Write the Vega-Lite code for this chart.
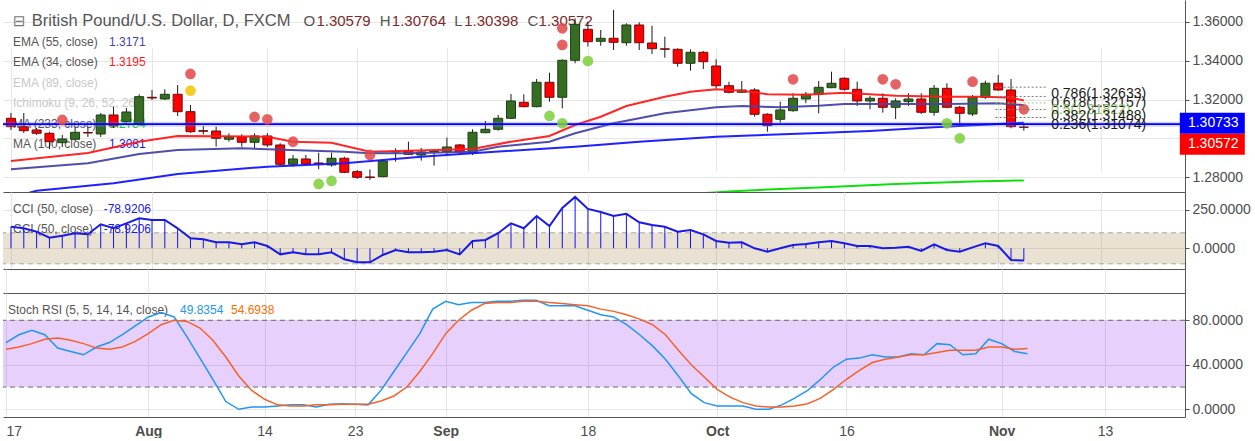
{
"$schema": "https://vega.github.io/schema/vega-lite/v6.json",
"padding": 0,
"background": "white",
"bounds": "flush",
"spacing": 0,
"config": {"view": {"stroke": null}, "font": "Liberation Sans",
 "axis": {"domainColor": "#555555", "gridColor": "#e6e6e6", "tickColor": "#555555", "labelFontSize": 14, "labelColor": "#4d4d4d", "tickSize": 4, "labelPadding": 3}},
"datasets": {
"candles": [
{"d":"2017-07-17","i":0,"o":1.31034,"h":1.31306,"l":1.30432,"c":1.30602},
{"d":"2017-07-18","i":1,"o":1.30602,"h":1.31306,"l":1.30278,"c":1.30396},
{"d":"2017-07-19","i":2,"o":1.30432,"h":1.30535,"l":1.30175,"c":1.30263},
{"d":"2017-07-20","i":3,"o":1.30263,"h":1.30345,"l":1.29455,"c":1.29831},
{"d":"2017-07-21","i":4,"o":1.2978,"h":1.30175,"l":1.29559,"c":1.2997},
{"d":"2017-07-24","i":5,"o":1.29955,"h":1.30602,"l":1.29867,"c":1.30314},
{"d":"2017-07-25","i":6,"o":1.30304,"h":1.30602,"l":1.30073,"c":1.30278},
{"d":"2017-07-26","i":7,"o":1.30227,"h":1.31306,"l":1.30073,"c":1.31204},
{"d":"2017-07-27","i":8,"o":1.31204,"h":1.31631,"l":1.30535,"c":1.30638},
{"d":"2017-07-28","i":9,"o":1.30859,"h":1.31564,"l":1.30741,"c":1.31358},
{"d":"2017-07-31","i":10,"o":1.30777,"h":1.32268,"l":1.3069,"c":1.32145},
{"d":"2017-08-01","i":11,"o":1.32114,"h":1.32489,"l":1.31975,"c":1.32078},
{"d":"2017-08-02","i":12,"o":1.32026,"h":1.32525,"l":1.31975,"c":1.32268},
{"d":"2017-08-03","i":13,"o":1.32268,"h":1.32746,"l":1.31152,"c":1.31374},
{"d":"2017-08-04","i":14,"o":1.31374,"h":1.31718,"l":1.30278,"c":1.30345},
{"d":"2017-08-07","i":15,"o":1.30396,"h":1.30638,"l":1.30201,"c":1.30366},
{"d":"2017-08-08","i":16,"o":1.30381,"h":1.30602,"l":1.29574,"c":1.30006},
{"d":"2017-08-09","i":17,"o":1.29955,"h":1.30263,"l":1.29831,"c":1.30088},
{"d":"2017-08-10","i":18,"o":1.30088,"h":1.30212,"l":1.29574,"c":1.298},
{"d":"2017-08-11","i":19,"o":1.298,"h":1.30263,"l":1.29492,"c":1.30124},
{"d":"2017-08-14","i":20,"o":1.30124,"h":1.30263,"l":1.29559,"c":1.29662},
{"d":"2017-08-15","i":21,"o":1.29662,"h":1.29749,"l":1.28582,"c":1.28669},
{"d":"2017-08-16","i":22,"o":1.28669,"h":1.29147,"l":1.28546,"c":1.28942},
{"d":"2017-08-17","i":23,"o":1.28942,"h":1.29147,"l":1.28597,"c":1.28685},
{"d":"2017-08-18","i":24,"o":1.28736,"h":1.29266,"l":1.28412,"c":1.28705},
{"d":"2017-08-21","i":25,"o":1.28633,"h":1.29266,"l":1.28546,"c":1.28978},
{"d":"2017-08-22","i":26,"o":1.28978,"h":1.2906,"l":1.28207,"c":1.28258},
{"d":"2017-08-23","i":27,"o":1.28289,"h":1.28376,"l":1.27914,"c":1.28001},
{"d":"2017-08-24","i":28,"o":1.28017,"h":1.28412,"l":1.27862,"c":1.27992},
{"d":"2017-08-25","i":29,"o":1.28032,"h":1.2889,"l":1.28001,"c":1.28839},
{"d":"2017-08-28","i":30,"o":1.29302,"h":1.29492,"l":1.28803,"c":1.29333},
{"d":"2017-08-29","i":31,"o":1.29369,"h":1.29831,"l":1.29147,"c":1.29183},
{"d":"2017-08-30","i":32,"o":1.29147,"h":1.29507,"l":1.28854,"c":1.29302},
{"d":"2017-08-31","i":33,"o":1.29302,"h":1.29405,"l":1.28597,"c":1.29327},
{"d":"2017-09-01","i":34,"o":1.29317,"h":1.30037,"l":1.29147,"c":1.29559},
{"d":"2017-09-04","i":35,"o":1.29662,"h":1.29713,"l":1.29147,"c":1.29317},
{"d":"2017-09-05","i":36,"o":1.29235,"h":1.30469,"l":1.29147,"c":1.30314},
{"d":"2017-09-06","i":37,"o":1.30293,"h":1.30895,"l":1.30263,"c":1.30469},
{"d":"2017-09-07","i":38,"o":1.30469,"h":1.31204,"l":1.30396,"c":1.31034},
{"d":"2017-09-08","i":39,"o":1.31034,"h":1.32283,"l":1.30998,"c":1.31924},
{"d":"2017-09-11","i":40,"o":1.31857,"h":1.32268,"l":1.316,"c":1.31631},
{"d":"2017-09-12","i":41,"o":1.31631,"h":1.33055,"l":1.316,"c":1.32885},
{"d":"2017-09-13","i":42,"o":1.32885,"h":1.33378,"l":1.31888,"c":1.32114},
{"d":"2017-09-14","i":43,"o":1.32114,"h":1.34067,"l":1.31548,"c":1.34016},
{"d":"2017-09-15","i":44,"o":1.34016,"h":1.36175,"l":1.33862,"c":1.35867},
{"d":"2017-09-18","i":45,"o":1.3561,"h":1.36,"l":1.34715,"c":1.34972},
{"d":"2017-09-19","i":46,"o":1.34993,"h":1.35574,"l":1.34766,"c":1.35147},
{"d":"2017-09-20","i":47,"o":1.35147,"h":1.36602,"l":1.34545,"c":1.34941},
{"d":"2017-09-21","i":48,"o":1.3492,"h":1.35918,"l":1.34766,"c":1.35831},
{"d":"2017-09-22","i":49,"o":1.35831,"h":1.35969,"l":1.34545,"c":1.3492},
{"d":"2017-09-25","i":50,"o":1.34905,"h":1.35795,"l":1.3434,"c":1.34612},
{"d":"2017-09-26","i":51,"o":1.34607,"h":1.35229,"l":1.34149,"c":1.34581},
{"d":"2017-09-27","i":52,"o":1.34581,"h":1.34633,"l":1.33687,"c":1.33862},
{"d":"2017-09-28","i":53,"o":1.33862,"h":1.34581,"l":1.33481,"c":1.34427},
{"d":"2017-09-29","i":54,"o":1.34427,"h":1.34494,"l":1.33569,"c":1.33944},
{"d":"2017-10-02","i":55,"o":1.33723,"h":1.34067,"l":1.32576,"c":1.3271},
{"d":"2017-10-03","i":56,"o":1.3271,"h":1.32916,"l":1.3232,"c":1.32371},
{"d":"2017-10-04","i":57,"o":1.32371,"h":1.32952,"l":1.32335,"c":1.32489},
{"d":"2017-10-05","i":58,"o":1.32489,"h":1.3258,"l":1.31116,"c":1.3124},
{"d":"2017-10-06","i":59,"o":1.3124,"h":1.31291,"l":1.30345,"c":1.30654},
{"d":"2017-10-09","i":60,"o":1.30983,"h":1.31888,"l":1.30808,"c":1.31461},
{"d":"2017-10-10","i":61,"o":1.31425,"h":1.32319,"l":1.31374,"c":1.32062},
{"d":"2017-10-11","i":62,"o":1.32026,"h":1.32386,"l":1.3181,"c":1.32268},
{"d":"2017-10-12","i":63,"o":1.32268,"h":1.32952,"l":1.31291,"c":1.32628},
{"d":"2017-10-13","i":64,"o":1.32607,"h":1.3343,"l":1.3258,"c":1.32834},
{"d":"2017-10-16","i":65,"o":1.33091,"h":1.33142,"l":1.32453,"c":1.32525},
{"d":"2017-10-17","i":66,"o":1.32525,"h":1.32916,"l":1.31666,"c":1.31924},
{"d":"2017-10-18","i":67,"o":1.31924,"h":1.32181,"l":1.31497,"c":1.32062},
{"d":"2017-10-19","i":68,"o":1.32062,"h":1.32319,"l":1.31322,"c":1.316},
{"d":"2017-10-20","i":69,"o":1.316,"h":1.32062,"l":1.30998,"c":1.31924},
{"d":"2017-10-23","i":70,"o":1.31888,"h":1.32319,"l":1.31666,"c":1.32026},
{"d":"2017-10-24","i":71,"o":1.32026,"h":1.32319,"l":1.31255,"c":1.31343},
{"d":"2017-10-25","i":72,"o":1.31343,"h":1.32746,"l":1.31168,"c":1.32576},
{"d":"2017-10-26","i":73,"o":1.32576,"h":1.32834,"l":1.31548,"c":1.316},
{"d":"2017-10-27","i":74,"o":1.316,"h":1.31666,"l":1.30777,"c":1.31291},
{"d":"2017-10-30","i":75,"o":1.31255,"h":1.32232,"l":1.31152,"c":1.32114},
{"d":"2017-10-31","i":76,"o":1.32114,"h":1.32967,"l":1.32026,"c":1.32834},
{"d":"2017-11-01","i":77,"o":1.32834,"h":1.3326,"l":1.32453,"c":1.32489},
{"d":"2017-11-02","i":78,"o":1.32489,"h":1.33055,"l":1.30521,"c":1.30602},
{"d":"2017-11-03","i":79,"o":1.30579,"h":1.30764,"l":1.30398,"c":1.30572}
],
"ma": [
{"i":0,"s":"e34","v":1.28839},{"i":6,"s":"e34","v":1.2925},{"i":10,"s":"e34","v":1.29831},{"i":13,"s":"e34","v":1.30124},{"i":20,"s":"e34","v":1.30088},{"i":22,"s":"e34","v":1.29831},{"i":25,"s":"e34","v":1.2978},{"i":28,"s":"e34","v":1.29317},{"i":31,"s":"e34","v":1.29369},{"i":36,"s":"e34","v":1.29456},{"i":39,"s":"e34","v":1.29831},{"i":42,"s":"e34","v":1.30124},{"i":44,"s":"e34","v":1.3069},{"i":46,"s":"e34","v":1.31116},{"i":48,"s":"e34","v":1.31666},{"i":51,"s":"e34","v":1.32145},{"i":53,"s":"e34","v":1.32402},{"i":55,"s":"e34","v":1.32525},{"i":57,"s":"e34","v":1.32453},{"i":59,"s":"e34","v":1.32268},{"i":62,"s":"e34","v":1.32248},{"i":65,"s":"e34","v":1.32351},{"i":67,"s":"e34","v":1.32268},{"i":69,"s":"e34","v":1.32196},{"i":73,"s":"e34","v":1.32145},{"i":76,"s":"e34","v":1.32145},{"i":78,"s":"e34","v":1.32093},{"i":79,"s":"e34","v":1.3195},
{"i":0,"s":"e55","v":1.28412},{"i":6,"s":"e55","v":1.28721},{"i":10,"s":"e55","v":1.29199},{"i":13,"s":"e55","v":1.29405},{"i":18,"s":"e55","v":1.29492},{"i":20,"s":"e55","v":1.29441},{"i":26,"s":"e55","v":1.29317},{"i":28,"s":"e55","v":1.29235},{"i":31,"s":"e55","v":1.29235},{"i":36,"s":"e55","v":1.29317},{"i":38,"s":"e55","v":1.29574},{"i":42,"s":"e55","v":1.29831},{"i":44,"s":"e55","v":1.30263},{"i":47,"s":"e55","v":1.30777},{"i":51,"s":"e55","v":1.31291},{"i":55,"s":"e55","v":1.316},{"i":57,"s":"e55","v":1.31666},{"i":60,"s":"e55","v":1.316},{"i":63,"s":"e55","v":1.31682},{"i":65,"s":"e55","v":1.31769},{"i":69,"s":"e55","v":1.31769},{"i":73,"s":"e55","v":1.31769},{"i":77,"s":"e55","v":1.31805},{"i":79,"s":"e55","v":1.3171},
{"i":0,"s":"m100","v":1.2694},{"i":2,"s":"m100","v":1.27312},{"i":8,"s":"m100","v":1.27693},{"i":13,"s":"m100","v":1.28171},{"i":20,"s":"m100","v":1.28546},{"i":26,"s":"m100","v":1.28721},{"i":32,"s":"m100","v":1.2906},{"i":36,"s":"m100","v":1.29235},{"i":44,"s":"m100","v":1.29574},{"i":49,"s":"m100","v":1.29831},{"i":55,"s":"m100","v":1.30088},{"i":63,"s":"m100","v":1.30279},{"i":67,"s":"m100","v":1.30381},{"i":72,"s":"m100","v":1.30572},{"i":77,"s":"m100","v":1.30741},{"i":79,"s":"m100","v":1.3081},
{"i":53,"s":"m233","v":1.2714},{"i":56,"s":"m233","v":1.2727},{"i":60,"s":"m233","v":1.274},{"i":63,"s":"m233","v":1.2747},{"i":69,"s":"m233","v":1.2766},{"i":75,"s":"m233","v":1.2778},{"i":79,"s":"m233","v":1.2784}
],
"dots": [
{"i":4,"p":1.30947,"t":"r"},{"i":14,"p":1.33312,"t":"r"},{"i":14,"p":1.32453,"t":"y"},{"i":19,"p":1.31101,"t":"r"},{"i":20,"p":1.30983,"t":"r"},{"i":22,"p":1.29831,"t":"r"},{"i":28,"p":1.29147,"t":"r"},{"i":24,"p":1.27657,"t":"g"},{"i":25,"p":1.27811,"t":"g"},{"i":43,"p":1.35661,"t":"r"},{"i":43,"p":1.34803,"t":"r"},{"i":45,"p":1.3398,"t":"g"},{"i":42,"p":1.31153,"t":"g"},{"i":43,"p":1.30777,"t":"g"},{"i":61,"p":1.33039,"t":"r"},{"i":68,"p":1.33039,"t":"r"},{"i":69,"p":1.32782,"t":"r"},{"i":75,"p":1.32916,"t":"r"},{"i":79,"p":1.31497,"t":"r"},{"i":73,"p":1.30777,"t":"g"},{"i":74,"p":1.30006,"t":"g"}
],
"tags": [
{"kind":"line","v":1.30733,"label":"1.30733"},
{"kind":"close","v":1.30572,"label":"1.30572"}
],
"fib": [
{"r":"0.786","p":1.32633,"label":"0.786(1.32633)","i0":76.8,"i1":80.74},
{"r":"0.618","p":1.32157,"label":"0.618(1.32157)","i0":76.8,"i1":80.74},
{"r":"0.5","p":1.31822,"label":"0.5(1.31822)","i0":76.8,"i1":80.74},
{"r":"0.382","p":1.31488,"label":"0.382(1.31488)","i0":76.8,"i1":80.74},
{"r":"0.236","p":1.31074,"label":"0.236(1.31074)","i0":76.8,"i1":80.74}
],
"legend": [
{"row":0,"part":"icon","name":"⊟"},
{"row":0,"part":"title","name":"British Pound/U.S. Dollar, D, FXCM"},
{"row":0,"part":"O","k":"O","val":"1.30579"},
{"row":0,"part":"H","k":"H","val":"1.30764"},
{"row":0,"part":"L","k":"L","val":"1.30398"},
{"row":0,"part":"C","k":"C","val":"1.30572"},
{"row":1,"part":"ind","name":"EMA (55, close)","val":"1.3171","s":"e55"},
{"row":2,"part":"ind","name":"EMA (34, close)","val":"1.3195","s":"e34"},
{"row":3,"part":"ind","name":"EMA (89, close)","val":"","s":"off"},
{"row":4,"part":"ind","name":"Ichimoku (9, 26, 52, 26)","val":"","s":"off"},
{"row":5,"part":"ind","name":"MA (233, close)","val":"1.2784","s":"m233"},
{"row":6,"part":"ind","name":"MA (100, close)","val":"1.3081","s":"m100"}
],
"cci": [
{"i":0,"v":139},{"i":1,"v":129},{"i":2,"v":107},{"i":3,"v":68},{"i":4,"v":81},{"i":5,"v":97},{"i":6,"v":90},{"i":7,"v":155},{"i":8,"v":129},{"i":9,"v":161},{"i":10,"v":194},{"i":11,"v":183},{"i":12,"v":183},{"i":13,"v":129},{"i":14,"v":65},{"i":15,"v":58},{"i":16,"v":39},{"i":17,"v":39},{"i":18,"v":26},{"i":19,"v":39},{"i":20,"v":15},{"i":21,"v":-39},{"i":22,"v":-26},{"i":23,"v":-39},{"i":24,"v":-39},{"i":25,"v":-26},{"i":26,"v":-71},{"i":27,"v":-90},{"i":28,"v":-90},{"i":29,"v":-43},{"i":30,"v":-11},{"i":31,"v":-26},{"i":32,"v":-26},{"i":33,"v":-22},{"i":34,"v":-11},{"i":35,"v":-39},{"i":36,"v":47},{"i":37,"v":54},{"i":38,"v":97},{"i":39,"v":161},{"i":40,"v":129},{"i":41,"v":208},{"i":42,"v":144},{"i":43,"v":260},{"i":44,"v":331},{"i":45,"v":254},{"i":46,"v":234},{"i":47,"v":208},{"i":48,"v":222},{"i":49,"v":168},{"i":50,"v":150},{"i":51,"v":139},{"i":52,"v":107},{"i":53,"v":118},{"i":54,"v":90},{"i":55,"v":47},{"i":56,"v":36},{"i":57,"v":39},{"i":58,"v":0},{"i":59,"v":-22},{"i":60,"v":0},{"i":61,"v":21},{"i":62,"v":28},{"i":63,"v":39},{"i":64,"v":47},{"i":65,"v":32},{"i":66,"v":15},{"i":67,"v":15},{"i":68,"v":0},{"i":69,"v":4},{"i":70,"v":10},{"i":71,"v":-17},{"i":72,"v":26},{"i":73,"v":-11},{"i":74,"v":-22},{"i":75,"v":6},{"i":76,"v":32},{"i":77,"v":15},{"i":78,"v":-75},{"i":79,"v":-78.92}
],
"stoch": [
{"i":0,"k":60,"d":54},{"i":1,"k":67,"d":56},{"i":2,"k":71,"d":59},{"i":3,"k":67,"d":63},{"i":4,"k":55,"d":64},{"i":5,"k":52,"d":62},{"i":6,"k":49,"d":59},{"i":7,"k":56,"d":55},{"i":8,"k":60,"d":54},{"i":9,"k":67,"d":56},{"i":10,"k":75,"d":61},{"i":11,"k":83,"d":68},{"i":12,"k":87,"d":76},{"i":13,"k":83,"d":80},{"i":14,"k":65,"d":79},{"i":15,"k":46,"d":73},{"i":16,"k":27,"d":62},{"i":17,"k":7,"d":47},{"i":18,"k":0,"d":30},{"i":19,"k":2,"d":17},{"i":20,"k":2,"d":9},{"i":21,"k":3,"d":4},{"i":22,"k":4,"d":3},{"i":23,"k":4,"d":3},{"i":24,"k":2,"d":4},{"i":25,"k":4.5,"d":4},{"i":26,"k":5,"d":4.5},{"i":27,"k":4.5,"d":4.5},{"i":28,"k":4,"d":4.5},{"i":29,"k":17,"d":7.5},{"i":30,"k":34,"d":12},{"i":31,"k":51,"d":20},{"i":32,"k":68,"d":34},{"i":33,"k":90,"d":50},{"i":34,"k":97,"d":68},{"i":35,"k":94,"d":80},{"i":36,"k":96,"d":89},{"i":37,"k":96,"d":95},{"i":38,"k":97,"d":96},{"i":39,"k":97,"d":96},{"i":40,"k":98,"d":97},{"i":41,"k":98,"d":97},{"i":42,"k":93,"d":96},{"i":43,"k":93,"d":95},{"i":44,"k":93,"d":94},{"i":45,"k":89,"d":93},{"i":46,"k":85,"d":90},{"i":47,"k":83,"d":88},{"i":48,"k":76,"d":85},{"i":49,"k":67,"d":81},{"i":50,"k":57,"d":76},{"i":51,"k":45,"d":67},{"i":52,"k":30,"d":53},{"i":53,"k":14,"d":40},{"i":54,"k":6,"d":29},{"i":55,"k":3,"d":18},{"i":56,"k":3,"d":11},{"i":57,"k":3,"d":6},{"i":58,"k":0,"d":3},{"i":59,"k":0,"d":2},{"i":60,"k":4,"d":2},{"i":61,"k":10,"d":3},{"i":62,"k":17,"d":5},{"i":63,"k":27,"d":10},{"i":64,"k":38,"d":18},{"i":65,"k":45,"d":27},{"i":66,"k":46,"d":35},{"i":67,"k":49,"d":42},{"i":68,"k":47,"d":45},{"i":69,"k":47,"d":47},{"i":70,"k":50,"d":49},{"i":71,"k":49,"d":49},{"i":72,"k":59,"d":51},{"i":73,"k":58,"d":53},{"i":74,"k":49,"d":53},{"i":75,"k":50,"d":53},{"i":76,"k":63,"d":56},{"i":77,"k":59,"d":56},{"i":78,"k":52,"d":54},{"i":79,"k":49.8354,"d":54.6938}
]
},
"vconcat": [
{
"width": 1182, "height": 192,
"resolve": {"scale": {"y": "independent"}},
"layer": [
{
"data": {"name": "legend"},
"layer": [
{"transform": [{"filter": "datum.part=='icon'"}], "mark": {"type": "text", "align": "left", "baseline": "middle", "fontSize": 15, "font": "DejaVu Sans", "color": "#777777"},
 "encoding": {"x": {"datum": 0.155, "type": "quantitative", "scale": {"domain": [-0.232, 91.18], "nice": false, "zero": false}, "axis": {"values": [0,11,20,27,34,45,55,65,77,85], "labels": false, "ticks": false, "grid": true, "title": null}},
  "y": {"field": "row", "type": "ordinal", "scale": {"type": "point", "domain": [0,1,2,3,4,5,6], "range": [21,144], "padding": 0}, "axis": null},
  "text": {"field": "name"}}},
{"transform": [{"filter": "datum.part=='title'"}], "mark": {"type": "text", "align": "left", "baseline": "middle", "fontSize": 16.5, "color": "#555555"},
 "encoding": {"x": {"datum": 1.624, "type": "quantitative", "axis": {"values": [0,11,20,27,34,45,55,65,77,85], "labels": false, "ticks": false, "grid": true, "title": null}},
  "y": {"field": "row", "type": "ordinal", "axis": null},
  "text": {"field": "name"}}},
{"transform": [{"filter": "datum.part=='O'"}], "mark": {"type": "text", "align": "left", "baseline": "middle", "fontSize": 15, "color": "#555555"},
 "encoding": {"x": {"datum": 22.81, "type": "quantitative", "axis": {"values": [0,11,20,27,34,45,55,65,77,85], "labels": false, "ticks": false, "grid": true, "title": null}}, "y": {"field": "row", "type": "ordinal", "axis": null}, "text": {"field": "k"}}},
{"transform": [{"filter": "datum.part=='O'"}], "mark": {"type": "text", "align": "left", "baseline": "middle", "fontSize": 15, "color": "#7b2a2a", "dx": 13},
 "encoding": {"x": {"datum": 22.81, "type": "quantitative", "axis": {"values": [0,11,20,27,34,45,55,65,77,85], "labels": false, "ticks": false, "grid": true, "title": null}}, "y": {"field": "row", "type": "ordinal", "axis": null}, "text": {"field": "val"}}},
{"transform": [{"filter": "datum.part=='H'"}], "mark": {"type": "text", "align": "left", "baseline": "middle", "fontSize": 15, "color": "#555555"},
 "encoding": {"x": {"datum": 28.77, "type": "quantitative", "axis": {"values": [0,11,20,27,34,45,55,65,77,85], "labels": false, "ticks": false, "grid": true, "title": null}}, "y": {"field": "row", "type": "ordinal", "axis": null}, "text": {"field": "k"}}},
{"transform": [{"filter": "datum.part=='H'"}], "mark": {"type": "text", "align": "left", "baseline": "middle", "fontSize": 15, "color": "#7b2a2a", "dx": 12},
 "encoding": {"x": {"datum": 28.77, "type": "quantitative", "axis": {"values": [0,11,20,27,34,45,55,65,77,85], "labels": false, "ticks": false, "grid": true, "title": null}}, "y": {"field": "row", "type": "ordinal", "axis": null}, "text": {"field": "val"}}},
{"transform": [{"filter": "datum.part=='L'"}], "mark": {"type": "text", "align": "left", "baseline": "middle", "fontSize": 15, "color": "#555555"},
 "encoding": {"x": {"datum": 34.57, "type": "quantitative", "axis": {"values": [0,11,20,27,34,45,55,65,77,85], "labels": false, "ticks": false, "grid": true, "title": null}}, "y": {"field": "row", "type": "ordinal", "axis": null}, "text": {"field": "k"}}},
{"transform": [{"filter": "datum.part=='L'"}], "mark": {"type": "text", "align": "left", "baseline": "middle", "fontSize": 15, "color": "#7b2a2a", "dx": 10},
 "encoding": {"x": {"datum": 34.57, "type": "quantitative", "axis": {"values": [0,11,20,27,34,45,55,65,77,85], "labels": false, "ticks": false, "grid": true, "title": null}}, "y": {"field": "row", "type": "ordinal", "axis": null}, "text": {"field": "val"}}},
{"transform": [{"filter": "datum.part=='C'"}], "mark": {"type": "text", "align": "left", "baseline": "middle", "fontSize": 15, "color": "#555555"},
 "encoding": {"x": {"datum": 40.29, "type": "quantitative", "axis": {"values": [0,11,20,27,34,45,55,65,77,85], "labels": false, "ticks": false, "grid": true, "title": null}}, "y": {"field": "row", "type": "ordinal", "axis": null}, "text": {"field": "k"}}},
{"transform": [{"filter": "datum.part=='C'"}], "mark": {"type": "text", "align": "left", "baseline": "middle", "fontSize": 15, "color": "#7b2a2a", "dx": 11},
 "encoding": {"x": {"datum": 40.29, "type": "quantitative", "axis": {"values": [0,11,20,27,34,45,55,65,77,85], "labels": false, "ticks": false, "grid": true, "title": null}}, "y": {"field": "row", "type": "ordinal", "axis": null}, "text": {"field": "val"}}},
{"transform": [{"filter": "datum.part=='ind'"}], "mark": {"type": "text", "align": "left", "baseline": "middle", "fontSize": 12},
 "encoding": {"x": {"datum": 0.155, "type": "quantitative", "axis": {"values": [0,11,20,27,34,45,55,65,77,85], "labels": false, "ticks": false, "grid": true, "title": null}}, "y": {"field": "row", "type": "ordinal", "axis": null}, "text": {"field": "name"},
  "fill": {"condition": {"test": "datum.s=='off'", "value": "#c8c8c8"}, "value": "#555555"}}},
{"transform": [{"filter": "datum.part=='ind' && datum.val!=''"}], "mark": {"type": "text", "align": "left", "baseline": "middle", "fontSize": 12, "dx": 96},
 "encoding": {"x": {"datum": 0.155, "type": "quantitative", "axis": {"values": [0,11,20,27,34,45,55,65,77,85], "labels": false, "ticks": false, "grid": true, "title": null}}, "y": {"field": "row", "type": "ordinal", "axis": null}, "text": {"field": "val"},
  "color": {"field": "s", "type": "nominal", "scale": {"domain": ["e34","e55","m100","m233"], "range": ["#ff1a1a","#4545a8","#1515ff","#00dd00"]}, "legend": null}}}
]
},
{
"layer": [
{"data": {"name": "candles"}, "mark": {"type": "rule", "color": "#1a1a1a", "strokeWidth": 1, "clip": true},
 "encoding": {
  "x": {"field": "i", "type": "quantitative", "scale": {"domain": [-0.232, 91.18], "nice": false, "zero": false}, "axis": {"values": [0,11,20,27,34,45,55,65,77,85], "labels": false, "ticks": false, "grid": true, "title": null}},
  "y": {"field": "l", "type": "quantitative", "scale": {"domain": [1.27244, 1.37116], "nice": false, "zero": false}, "axis": {"orient": "right", "values": [1.28,1.3,1.32,1.34,1.36], "labelExpr": "abs(datum.value-1.3)<0.0001 ? '' : format(datum.value, '.5f')", "grid": true, "title": null}},
  "y2": {"field": "h"}}},
{"data": {"name": "candles"}, "mark": {"type": "bar", "width": 9, "strokeWidth": 1, "clip": true},
 "encoding": {
  "x": {"field": "i", "type": "quantitative", "axis": {"values": [0,11,20,27,34,45,55,65,77,85], "labels": false, "ticks": false, "grid": true, "title": null}},
  "y": {"field": "o", "type": "quantitative", "axis": {"orient": "right", "values": [1.28,1.3,1.32,1.34,1.36], "labelExpr": "abs(datum.value-1.3)<0.0001 ? '' : format(datum.value, '.5f')", "grid": true, "title": null}},
  "y2": {"field": "c"},
  "fill": {"condition": {"test": "datum.c >= datum.o", "value": "#356e23"}, "value": "#ff0000"},
  "stroke": {"condition": {"test": "datum.c >= datum.o", "value": "#1d3d12"}, "value": "#6e0b0b"}}},
{"data": {"name": "ma"}, "mark": {"type": "line", "strokeWidth": 2, "clip": true, "opacity": 0.95},
 "encoding": {
  "x": {"field": "i", "type": "quantitative", "axis": {"values": [0,11,20,27,34,45,55,65,77,85], "labels": false, "ticks": false, "grid": true, "title": null}},
  "y": {"field": "v", "type": "quantitative", "axis": {"orient": "right", "values": [1.28,1.3,1.32,1.34,1.36], "labelExpr": "abs(datum.value-1.3)<0.0001 ? '' : format(datum.value, '.5f')", "grid": true, "title": null}},
  "color": {"field": "s", "type": "nominal", "scale": {"domain": ["e34","e55","m100","m233"], "range": ["#ff1a1a","#4545a8","#1515ff","#00dd00"]}, "legend": null}}},
{"data": {"name": "tags"}, "transform": [{"filter": "datum.kind=='line'"}], "mark": {"type": "rule", "color": "#7070ff", "strokeWidth": 5, "opacity": 0.3},
 "encoding": {"y": {"field": "v", "type": "quantitative", "axis": {"orient": "right", "values": [1.28,1.3,1.32,1.34,1.36], "labelExpr": "abs(datum.value-1.3)<0.0001 ? '' : format(datum.value, '.5f')", "grid": true, "title": null}}}},
{"data": {"name": "tags"}, "transform": [{"filter": "datum.kind=='line'"}], "mark": {"type": "rule", "color": "#0000ff", "strokeWidth": 1.6},
 "encoding": {"y": {"field": "v", "type": "quantitative", "axis": {"orient": "right", "values": [1.28,1.3,1.32,1.34,1.36], "labelExpr": "abs(datum.value-1.3)<0.0001 ? '' : format(datum.value, '.5f')", "grid": true, "title": null}}}},
{"data": {"name": "dots"}, "mark": {"type": "point", "filled": true, "size": 115, "opacity": 0.85, "strokeWidth": 0},
 "encoding": {
  "x": {"field": "i", "type": "quantitative", "axis": {"values": [0,11,20,27,34,45,55,65,77,85], "labels": false, "ticks": false, "grid": true, "title": null}},
  "y": {"field": "p", "type": "quantitative", "axis": {"orient": "right", "values": [1.28,1.3,1.32,1.34,1.36], "labelExpr": "abs(datum.value-1.3)<0.0001 ? '' : format(datum.value, '.5f')", "grid": true, "title": null}},
  "fill": {"field": "t", "type": "nominal", "scale": {"domain": ["r","g","y"], "range": ["#e24848","#7ccf3a","#f5c400"]}, "legend": null}}},
{"data": {"name": "fib"}, "mark": {"type": "rule", "strokeDash": [2,2], "strokeWidth": 1},
 "encoding": {
  "x": {"field": "i0", "type": "quantitative", "axis": {"values": [0,11,20,27,34,45,55,65,77,85], "labels": false, "ticks": false, "grid": true, "title": null}},
  "x2": {"field": "i1"},
  "y": {"field": "p", "type": "quantitative", "axis": {"orient": "right", "values": [1.28,1.3,1.32,1.34,1.36], "labelExpr": "abs(datum.value-1.3)<0.0001 ? '' : format(datum.value, '.5f')", "grid": true, "title": null}},
  "stroke": {"condition": {"test": "datum.r=='0.5'", "value": "#9ccc7a"}, "value": "#777777"}}},
{"data": {"name": "fib"}, "mark": {"type": "text", "align": "left", "baseline": "top", "fontSize": 14, "dx": 5},
 "encoding": {
  "x": {"field": "i1", "type": "quantitative", "axis": {"values": [0,11,20,27,34,45,55,65,77,85], "labels": false, "ticks": false, "grid": true, "title": null}},
  "y": {"field": "p", "type": "quantitative", "axis": {"orient": "right", "values": [1.28,1.3,1.32,1.34,1.36], "labelExpr": "abs(datum.value-1.3)<0.0001 ? '' : format(datum.value, '.5f')", "grid": true, "title": null}},
  "text": {"field": "label"},
  "fill": {"condition": {"test": "datum.r=='0.5'", "value": "#8fbf6a"}, "value": "#1a1a1a"}}},
{"data": {"name": "tags"}, "transform": [{"filter": "datum.kind=='line'"}], "mark": {"type": "tick", "orient": "horizontal", "size": 65, "thickness": 21, "color": "#0000ff", "opacity": 1, "yOffset": -1},
 "encoding": {
  "x": {"datum": 93.7, "type": "quantitative", "axis": {"values": [0,11,20,27,34,45,55,65,77,85], "labels": false, "ticks": false, "grid": true, "title": null}},
  "y": {"field": "v", "type": "quantitative", "axis": {"orient": "right", "values": [1.28,1.3,1.32,1.34,1.36], "labelExpr": "abs(datum.value-1.3)<0.0001 ? '' : format(datum.value, '.5f')", "grid": true, "title": null}}}},
{"data": {"name": "tags"}, "transform": [{"filter": "datum.kind=='line'"}], "mark": {"type": "text", "align": "left", "baseline": "middle", "fontSize": 14, "color": "#ffffff", "dy": -1},
 "encoding": {
  "x": {"datum": 91.8, "type": "quantitative", "axis": {"values": [0,11,20,27,34,45,55,65,77,85], "labels": false, "ticks": false, "grid": true, "title": null}},
  "y": {"field": "v", "type": "quantitative", "axis": {"orient": "right", "values": [1.28,1.3,1.32,1.34,1.36], "labelExpr": "abs(datum.value-1.3)<0.0001 ? '' : format(datum.value, '.5f')", "grid": true, "title": null}},
  "text": {"field": "label"}}},
{"data": {"name": "tags"}, "transform": [{"filter": "datum.kind=='close'"}], "mark": {"type": "tick", "orient": "horizontal", "size": 65, "thickness": 21, "color": "#ff0000", "opacity": 1, "yOffset": 17},
 "encoding": {
  "x": {"datum": 93.7, "type": "quantitative", "axis": {"values": [0,11,20,27,34,45,55,65,77,85], "labels": false, "ticks": false, "grid": true, "title": null}},
  "y": {"field": "v", "type": "quantitative", "axis": {"orient": "right", "values": [1.28,1.3,1.32,1.34,1.36], "labelExpr": "abs(datum.value-1.3)<0.0001 ? '' : format(datum.value, '.5f')", "grid": true, "title": null}}}},
{"data": {"name": "tags"}, "transform": [{"filter": "datum.kind=='close'"}], "mark": {"type": "text", "align": "left", "baseline": "middle", "fontSize": 14, "color": "#ffffff", "dy": 17},
 "encoding": {
  "x": {"datum": 91.8, "type": "quantitative", "axis": {"values": [0,11,20,27,34,45,55,65,77,85], "labels": false, "ticks": false, "grid": true, "title": null}},
  "y": {"field": "v", "type": "quantitative", "axis": {"orient": "right", "values": [1.28,1.3,1.32,1.34,1.36], "labelExpr": "abs(datum.value-1.3)<0.0001 ? '' : format(datum.value, '.5f')", "grid": true, "title": null}},
  "text": {"field": "label"}}}
]
}
]
},
{
"width": 1182, "height": 77,
"layer": [
{"data": {"values": [{"lo": -100, "hi": 100}]}, "mark": {"type": "rect", "color": "#9b7632", "opacity": 0.22},
 "encoding": {
  "y": {"field": "lo", "type": "quantitative", "scale": {"domain": [-133.5, 363], "nice": false, "zero": false}, "axis": {"orient": "right", "values": [0,250], "format": ".4f", "grid": true, "title": null}},
  "y2": {"field": "hi"}}},
{"data": {"values": [{"v": -100}, {"v": 100}]}, "mark": {"type": "rule", "color": "#a8a8a8", "strokeDash": [5,4], "strokeWidth": 1},
 "encoding": {"y": {"field": "v", "type": "quantitative", "axis": {"orient": "right", "values": [0,250], "format": ".4f", "grid": true, "title": null}}}},
{"data": {"values": [{"name": "CCI (50, close)", "val": "-78.9206"}]}, "mark": {"type": "text", "align": "left", "baseline": "middle", "fontSize": 12, "color": "#555555"},
 "encoding": {"x": {"datum": 0.155, "type": "quantitative", "scale": {"domain": [-0.232, 91.18], "nice": false, "zero": false}, "axis": {"values": [0,11,20,27,34,45,55,65,77,85], "labels": false, "ticks": false, "grid": true, "title": null}},
  "y": {"datum": 253.5, "type": "quantitative", "axis": {"orient": "right", "values": [0,250], "format": ".4f", "grid": true, "title": null}}, "text": {"field": "name"}}},
{"data": {"values": [{"name": "CCI (50, close)", "val": "-78.9206"}]}, "mark": {"type": "text", "align": "left", "baseline": "middle", "fontSize": 12, "color": "#1a1ae6", "dx": 90.7},
 "encoding": {"x": {"datum": 0.155, "type": "quantitative", "axis": {"values": [0,11,20,27,34,45,55,65,77,85], "labels": false, "ticks": false, "grid": true, "title": null}},
  "y": {"datum": 253.5, "type": "quantitative", "axis": {"orient": "right", "values": [0,250], "format": ".4f", "grid": true, "title": null}}, "text": {"field": "val"}}},
{"data": {"values": [{"name": "CCI (50, close)", "val": "-78.9206"}]}, "mark": {"type": "text", "align": "left", "baseline": "middle", "fontSize": 12, "color": "#555555"},
 "encoding": {"x": {"datum": 0.155, "type": "quantitative", "axis": {"values": [0,11,20,27,34,45,55,65,77,85], "labels": false, "ticks": false, "grid": true, "title": null}},
  "y": {"datum": 122.6, "type": "quantitative", "axis": {"orient": "right", "values": [0,250], "format": ".4f", "grid": true, "title": null}}, "text": {"field": "name"}}},
{"data": {"values": [{"name": "CCI (50, close)", "val": "-78.9206"}]}, "mark": {"type": "text", "align": "left", "baseline": "middle", "fontSize": 12, "color": "#1a1ae6", "dx": 90.7},
 "encoding": {"x": {"datum": 0.155, "type": "quantitative", "axis": {"values": [0,11,20,27,34,45,55,65,77,85], "labels": false, "ticks": false, "grid": true, "title": null}},
  "y": {"datum": 122.6, "type": "quantitative", "axis": {"orient": "right", "values": [0,250], "format": ".4f", "grid": true, "title": null}}, "text": {"field": "val"}}},
{"data": {"name": "cci"}, "mark": {"type": "bar", "color": "#1010ff", "width": 1, "clip": true},
 "encoding": {
  "x": {"field": "i", "type": "quantitative", "axis": {"values": [0,11,20,27,34,45,55,65,77,85], "labels": false, "ticks": false, "grid": true, "title": null}},
  "y": {"field": "v", "type": "quantitative", "axis": {"orient": "right", "values": [0,250], "format": ".4f", "grid": true, "title": null}}}},
{"data": {"name": "cci"}, "mark": {"type": "line", "color": "#1a1ae6", "strokeWidth": 2, "clip": true},
 "encoding": {
  "x": {"field": "i", "type": "quantitative", "axis": {"values": [0,11,20,27,34,45,55,65,77,85], "labels": false, "ticks": false, "grid": true, "title": null}},
  "y": {"field": "v", "type": "quantitative", "axis": {"orient": "right", "values": [0,250], "format": ".4f", "grid": true, "title": null}}}}
]
},
{
"width": 1182, "height": 24,
"data": {"name": "candles"},
"mark": {"type": "rule", "opacity": 0, "clip": true},
"encoding": {
 "x": {"field": "i", "type": "quantitative", "scale": {"domain": [-0.232, 91.18], "nice": false, "zero": false}, "axis": {"values": [0,11,20,27,34,45,55,65,77,85], "labels": false, "ticks": false, "grid": true, "title": null}},
 "y": {"field": "c", "type": "quantitative", "scale": {"domain": [1, 2], "nice": false, "zero": false}, "axis": {"orient": "right", "labels": false, "ticks": false, "grid": false, "title": null}}}
},
{
"width": 1182, "height": 124,
"layer": [
{"data": {"values": [{"lo": 20, "hi": 80}]}, "mark": {"type": "rect", "color": "#8c14f0", "opacity": 0.2},
 "encoding": {
  "y": {"field": "lo", "type": "quantitative", "scale": {"domain": [-6.9, 104.5], "nice": false, "zero": false}, "axis": {"orient": "right", "values": [0,40,80], "format": ".4f", "grid": true, "title": null}},
  "y2": {"field": "hi"}}},
{"data": {"values": [{"v": 20}, {"v": 80}]}, "mark": {"type": "rule", "color": "#6a6a6a", "strokeDash": [5,4], "strokeWidth": 1},
 "encoding": {"y": {"field": "v", "type": "quantitative", "axis": {"orient": "right", "values": [0,40,80], "format": ".4f", "grid": true, "title": null}}}},
{"data": {"values": [{"name": "Stoch RSI (5, 5, 14, 14, close)", "k": "49.8354", "d": "54.6938"}]}, "mark": {"type": "text", "align": "left", "baseline": "middle", "fontSize": 12, "color": "#555555"},
 "encoding": {"x": {"datum": 0.155, "type": "quantitative", "scale": {"domain": [-0.232, 91.18], "nice": false, "zero": false},
   "axis": {"values": [0,11,20,27,34,45,55,65,77,85], "labelExpr": "datum.value==0?'17':datum.value==11?'Aug':datum.value==20?'14':datum.value==27?'23':datum.value==34?'Sep':datum.value==45?'18':datum.value==55?'Oct':datum.value==65?'16':datum.value==77?'Nov':datum.value==85?'13':''", "labelFontWeight": {"condition": {"test": "indexof([11,34,55,77], datum.value) >= 0", "value": "bold"}, "value": "normal"}, "labelPadding": 7, "labelFlush": 5, "labelOverlap": false, "ticks": false, "grid": true, "title": null}},
  "y": {"datum": 89.3, "type": "quantitative", "axis": {"orient": "right", "values": [0,40,80], "format": ".4f", "grid": true, "title": null}}, "text": {"field": "name"}}},
{"data": {"values": [{"name": "Stoch RSI (5, 5, 14, 14, close)", "k": "49.8354", "d": "54.6938"}]}, "mark": {"type": "text", "align": "left", "baseline": "middle", "fontSize": 12, "color": "#2196f3", "dx": 172},
 "encoding": {"x": {"datum": 0.155, "type": "quantitative",
   "axis": {"values": [0,11,20,27,34,45,55,65,77,85], "labelExpr": "datum.value==0?'17':datum.value==11?'Aug':datum.value==20?'14':datum.value==27?'23':datum.value==34?'Sep':datum.value==45?'18':datum.value==55?'Oct':datum.value==65?'16':datum.value==77?'Nov':datum.value==85?'13':''", "labelFontWeight": {"condition": {"test": "indexof([11,34,55,77], datum.value) >= 0", "value": "bold"}, "value": "normal"}, "labelPadding": 7, "labelFlush": 5, "labelOverlap": false, "ticks": false, "grid": true, "title": null}},
  "y": {"datum": 89.3, "type": "quantitative", "axis": {"orient": "right", "values": [0,40,80], "format": ".4f", "grid": true, "title": null}}, "text": {"field": "k"}}},
{"data": {"values": [{"name": "Stoch RSI (5, 5, 14, 14, close)", "k": "49.8354", "d": "54.6938"}]}, "mark": {"type": "text", "align": "left", "baseline": "middle", "fontSize": 12, "color": "#ff6d00", "dx": 223},
 "encoding": {"x": {"datum": 0.155, "type": "quantitative",
   "axis": {"values": [0,11,20,27,34,45,55,65,77,85], "labelExpr": "datum.value==0?'17':datum.value==11?'Aug':datum.value==20?'14':datum.value==27?'23':datum.value==34?'Sep':datum.value==45?'18':datum.value==55?'Oct':datum.value==65?'16':datum.value==77?'Nov':datum.value==85?'13':''", "labelFontWeight": {"condition": {"test": "indexof([11,34,55,77], datum.value) >= 0", "value": "bold"}, "value": "normal"}, "labelPadding": 7, "labelFlush": 5, "labelOverlap": false, "ticks": false, "grid": true, "title": null}},
  "y": {"datum": 89.3, "type": "quantitative", "axis": {"orient": "right", "values": [0,40,80], "format": ".4f", "grid": true, "title": null}}, "text": {"field": "d"}}},
{"data": {"name": "stoch"}, "mark": {"type": "line", "color": "#2196f3", "strokeWidth": 1.5, "clip": true},
 "encoding": {
  "x": {"field": "i", "type": "quantitative",
   "axis": {"values": [0,11,20,27,34,45,55,65,77,85], "labelExpr": "datum.value==0?'17':datum.value==11?'Aug':datum.value==20?'14':datum.value==27?'23':datum.value==34?'Sep':datum.value==45?'18':datum.value==55?'Oct':datum.value==65?'16':datum.value==77?'Nov':datum.value==85?'13':''", "labelFontWeight": {"condition": {"test": "indexof([11,34,55,77], datum.value) >= 0", "value": "bold"}, "value": "normal"}, "labelPadding": 7, "labelFlush": 5, "labelOverlap": false, "ticks": false, "grid": true, "title": null}},
  "y": {"field": "k", "type": "quantitative", "axis": {"orient": "right", "values": [0,40,80], "format": ".4f", "grid": true, "title": null}}}},
{"data": {"name": "stoch"}, "mark": {"type": "line", "color": "#f4622a", "strokeWidth": 1.5, "clip": true},
 "encoding": {
  "x": {"field": "i", "type": "quantitative",
   "axis": {"values": [0,11,20,27,34,45,55,65,77,85], "labelExpr": "datum.value==0?'17':datum.value==11?'Aug':datum.value==20?'14':datum.value==27?'23':datum.value==34?'Sep':datum.value==45?'18':datum.value==55?'Oct':datum.value==65?'16':datum.value==77?'Nov':datum.value==85?'13':''", "labelFontWeight": {"condition": {"test": "indexof([11,34,55,77], datum.value) >= 0", "value": "bold"}, "value": "normal"}, "labelPadding": 7, "labelFlush": 5, "labelOverlap": false, "ticks": false, "grid": true, "title": null}},
  "y": {"field": "d", "type": "quantitative", "axis": {"orient": "right", "values": [0,40,80], "format": ".4f", "grid": true, "title": null}}}}
]
}
]
}
